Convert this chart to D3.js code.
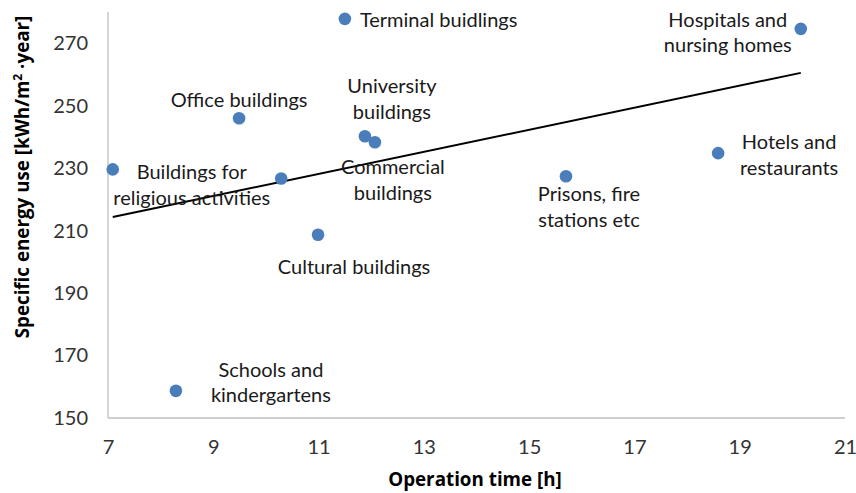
<!DOCTYPE html>
<html>
<head>
<meta charset="utf-8">
<script src="https://cdn.jsdelivr.net/npm/d3@7"></script>
<style>
  body { margin: 0; background: #fff; }
  text { font-family: Lato, "Open Sans", sans-serif; }
</style>
</head>
<body>
<script>
// building categories (empty name = point without label)
const names = [
  ["Buildings for", "religious activities"],
  ["Schools and", "kindergartens"],
  ["Office buildings"],
  [],
  ["Cultural buildings"],
  ["Terminal buidlings"],
  ["University", "buildings"],
  ["Commercial", "buildings"],
  ["Prisons, fire", "stations etc"],
  ["Hotels and", "restaurants"],
  ["Hospitals and", "nursing homes"]
];
// operation time [h]
const hours = [7.09, 8.29, 9.49, 10.29, 10.99, 11.5, 11.88, 12.07, 15.7, 18.59, 20.16];
// specific energy use [kWh/m2 year]
const energy = [229.6, 158.7, 246.0, 226.7, 208.7, 277.8, 240.2, 238.3, 227.4, 234.8, 274.6];

const xTicks = [7, 9, 11, 13, 15, 17, 19, 21];
const yTicks = [150, 170, 190, 210, 230, 250, 270];

// label placement relative to the point: [dx, first baseline dy, anchor]
const labelPlace = [
  [79, 10, "middle"], [95, -14, "middle"], [0, -11, "middle"], [0, 0, "middle"],
  [36, 39, "middle"], [15, 8, "start"], [27, -43, "middle"], [18, 32, "middle"],
  [23, 25, "middle"], [71, -4, "middle"], [-73, -2, "middle"]
];

const W = 856, H = 493;
const svg = d3.select("body").append("svg").attr("width", W).attr("height", H);

const x = d3.scaleLinear().domain([7, 21]).range([108, 845]);
const y = d3.scaleLinear().domain([150, 280]).range([418, 12]);

// axes lines
svg.append("line").attr("x1", x(7)).attr("x2", x(7)).attr("y1", y(280)).attr("y2", y(150))
  .attr("stroke", "#bfbfbf").attr("stroke-width", 1.3);
svg.append("line").attr("x1", x(7)).attr("x2", x(21)).attr("y1", y(150)).attr("y2", y(150))
  .attr("stroke", "#bfbfbf").attr("stroke-width", 1.3);

const xAxis = svg.append("g").attr("transform", `translate(0,${y(150)})`)
  .call(d3.axisBottom(x).tickValues(xTicks).tickSize(0).tickPadding(29).tickFormat(d3.format("d")));
const yAxis = svg.append("g").attr("transform", `translate(${x(7)},0)`)
  .call(d3.axisLeft(y).tickValues(yTicks).tickSize(0).tickPadding(20).tickFormat(d3.format("d")));
[xAxis, yAxis].forEach(a => {
  a.select(".domain").remove();
  a.selectAll("text").attr("font-size", 20).attr("fill", "#333")
    .style("font-family", "Lato, sans-serif");
});
xAxis.selectAll("text").attr("dy", "0.35em");

// axis titles
svg.append("text").attr("x", 475).attr("y", 486).attr("text-anchor", "middle")
  .style("font-family", "'Open Sans', sans-serif")
  .attr("font-size", 18.8).attr("font-weight", "bold").attr("fill", "#000")
  .text("Operation time [h]");
const yt = svg.append("text").attr("transform", "translate(29,177) rotate(-90)")
  .style("font-family", "'Open Sans', sans-serif")
  .attr("text-anchor", "middle").attr("font-size", 18.8).attr("font-weight", "bold").attr("fill", "#000");
yt.append("tspan").text("Specific energy use [kWh/m");
yt.append("tspan").attr("font-size", 12).attr("dy", -7).text("2");
yt.append("tspan").attr("dy", 7).text(" \u00b7year]");

// linear trend line (least squares)
const mx = d3.mean(hours), my = d3.mean(energy);
const slope = d3.sum(hours, (h, i) => (h - mx) * (energy[i] - my)) / d3.sum(hours, h => (h - mx) ** 2);
const icpt = my - slope * mx;
const ext = d3.extent(hours);
svg.append("line")
  .attr("x1", x(ext[0])).attr("y1", y(icpt + slope * ext[0]))
  .attr("x2", x(ext[1])).attr("y2", y(icpt + slope * ext[1]))
  .attr("stroke", "#000").attr("stroke-width", 2);

// points
svg.selectAll("circle.pt").data(hours).enter().append("circle")
  .attr("class", "pt")
  .attr("cx", d => x(d)).attr("cy", (d, i) => y(energy[i])).attr("r", 6.3)
  .attr("fill", "#4a7ebb");

// labels
names.forEach((lines, i) => {
  const p = labelPlace[i];
  const t = svg.append("text")
    .attr("x", x(hours[i]) + p[0]).attr("y", y(energy[i]) + p[1])
    .attr("text-anchor", p[2]).attr("font-size", 20).attr("fill", "#1a1a1a");
  lines.forEach((ln, k) => {
    t.append("tspan").attr("x", x(hours[i]) + p[0]).attr("dy", k === 0 ? 0 : 25.5).text(ln);
  });
});
</script>
</body>
</html>
